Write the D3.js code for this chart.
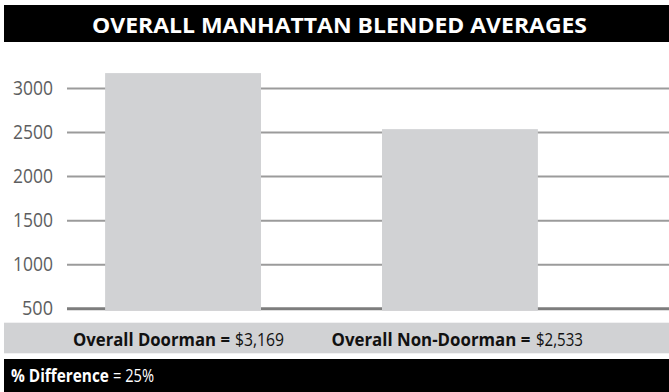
<!DOCTYPE html>
<html>
<head>
<meta charset="utf-8">
<script src="https://cdn.jsdelivr.net/npm/d3@7"></script>
<style>
  html, body { margin: 0; padding: 0; background: #fff; }
  svg { display: block; }
</style>
</head>
<body>
<script>
// Average rents, doorman vs non-doorman buildings
const categories = ["Overall Doorman", "Overall Non-Doorman"];
const values = [3169, 2533];
const tickValues = [500, 1000, 1500, 2000, 2500, 3000];
const title = "OVERALL MANHATTAN BLENDED AVERAGES";

const W = 669, H = 392;
const font = "'Open Sans', 'Noto Sans', sans-serif";
const barColor = "#d1d2d4";

const svg = d3.select("body").append("svg")
  .attr("width", W).attr("height", H);

// Place a text at (x, y) and squeeze it horizontally to the given width
function fitText(parent, str, x, y, width, attrs) {
  const g = parent.append("g");
  const t = g.append("text").text(str);
  Object.entries(attrs || {}).forEach(([k, v]) => t.attr(k, v));
  const natural = t.node().getComputedTextLength();
  g.attr("transform", `translate(${x},${y}) scale(${width / natural},1)`);
  return t;
}

// Title banner
svg.append("rect").attr("x", 4).attr("y", 5).attr("width", W - 4).attr("height", 37).attr("fill", "#000");
fitText(svg, title, 92, 32.5, 495, {
  fill: "#fff", "font-family": font, "font-weight": 700, "font-size": 21
});

// Scales
const plotLeft = 67;
const y = d3.scaleLinear().domain([500, 3000]).range([308.3, 88]);
const x = d3.scaleBand().domain(categories).range([68, 575])
  .paddingInner(0.437).paddingOuter(0.134);

// Axis with full-width gridlines
const axis = d3.axisLeft(y)
  .tickValues(tickValues)
  .tickFormat(d3.format("d"))
  .tickSizeInner(-(W - plotLeft))
  .tickSizeOuter(0)
  .tickPadding(14);

const gAxis = svg.append("g").attr("transform", `translate(${plotLeft},0)`).call(axis);
gAxis.select(".domain").remove();
gAxis.selectAll(".tick line")
  .attr("stroke", d => d === 500 ? "#7d7d7d" : "#9b9b9b")
  .attr("stroke-width", d => d === 500 ? 3 : 2);
gAxis.selectAll(".tick text")
  .attr("fill", "#5d5e60")
  .attr("font-family", font)
  .attr("font-size", 19.5)
  .attr("textLength", 40).attr("lengthAdjust", "spacingAndGlyphs");
gAxis.selectAll(".tick text").filter(d => d < 1000)
  .attr("textLength", 31);

// Bars
svg.append("g").selectAll("rect")
  .data(values)
  .join("rect")
  .attr("x", (d, i) => x(categories[i]))
  .attr("width", x.bandwidth())
  .attr("y", d => y(d))
  .attr("height", d => y(500) + 2.5 - y(d))
  .attr("fill", barColor);

// Legend band with category totals
svg.append("rect").attr("x", 4).attr("y", 322.7).attr("width", W - 4).attr("height", 30.6).attr("fill", barColor);

const money = d3.format("$,");
const legendLayout = [
  { labelX: 73, labelW: 157, valueX: 235, valueW: 49 },
  { labelX: 331.5, labelW: 199, valueX: 536, valueW: 47 }
];
const legend = svg.append("g");
const legendAttrs = { "font-family": font, "font-size": 18.5, fill: "#111" };
categories.forEach((c, i) => {
  const L = legendLayout[i];
  fitText(legend, c + " =", L.labelX, 345.5, L.labelW, { ...legendAttrs, "font-weight": 700 });
  fitText(legend, money(values[i]), L.valueX, 345.5, L.valueW, legendAttrs);
});

// Percent difference footer
svg.append("rect").attr("x", 4).attr("y", 359).attr("width", W - 4).attr("height", H - 359).attr("fill", "#000");
const pct = d3.format(".0%")(values[0] / values[1] - 1);
const footAttrs = { "font-family": font, "font-size": 17.5, fill: "#fff" };
fitText(svg, "% Difference", 11, 381.5, 98, { ...footAttrs, "font-weight": 700 });
fitText(svg, "= " + pct, 113, 381.5, 41, footAttrs);
</script>
</body>
</html>
